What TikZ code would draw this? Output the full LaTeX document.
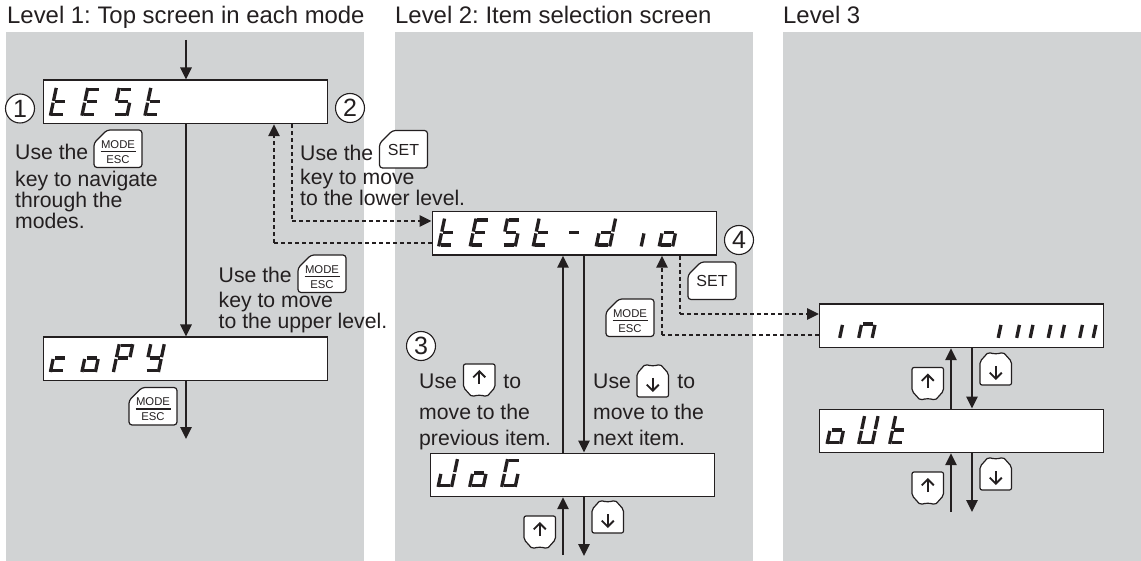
\documentclass[tikz,border=0pt]{standalone}
\usepackage{fontspec}
\setmainfont{Liberation Sans}
\usetikzlibrary{arrows.meta}
\definecolor{myInk}{RGB}{35,31,32}
\definecolor{myGray}{RGB}{209,211,212}
\frenchspacing

\tikzset{
	panel/.style={fill=myGray,draw=none},
	display/.style={draw=myInk,fill=white,line width=1.2pt,minimum width=284pt,minimum height=43.5pt,inner sep=0pt,anchor=north west,text opacity=0},
	txt/.style={font=\fontsize{21.2}{21}\selectfont,text=myInk,inner sep=0pt,anchor=base west,align=left},
	head/.style={font=\fontsize{23.9}{24}\selectfont,text=myInk,inner sep=0pt,anchor=base west},
	num/.style={circle,draw=myInk,line width=1.1pt,fill=white,minimum size=29pt,inner sep=0pt,font=\fontsize{25}{25}\selectfont,text=myInk},
	flow/.style={draw=myInk,line width=2.6pt,-{Triangle[length=12pt,width=11pt]}},
	dots/.style={draw=myInk,line width=2.8pt,dash pattern=on 4pt off 3pt,-{Triangle[length=12pt,width=11pt,sep=0pt]}},
	dotsplain/.style={draw=myInk,line width=2.8pt,dash pattern=on 4pt off 3pt},
	keyline/.style={draw=myInk,fill=white,line width=1.2pt,line join=round},
	keyarrow/.style={draw=myInk,line width=1.9pt,-{Straight Barb[length=6pt,width=12pt,line width=1.9pt]}},
	segline/.style={draw=myInk,line width=3.3pt,line cap=butt},
	% the seven segments, in the frame of one digit
	seg a/.style={insert path={(1.7,25)--(11.8,25)}},
	seg b/.style={insert path={(13.5,26.4)--(13.5,13.4)}},
	seg c/.style={insert path={(13.5,11.6)--(13.5,-1.4)}},
	seg d/.style={insert path={(1.7,0)--(11.8,0)}},
	seg e/.style={insert path={(0,-1.4)--(0,11.6)}},
	seg f/.style={insert path={(0,13.4)--(0,26.4)}},
	seg g/.style={insert path={(1.7,12.5)--(11.8,12.5)}},
	% keys
	modekey/.pic={
		\draw[keyline,rounded corners=3pt] (0,13) -- (13,0) -- (48,0) -- (48,37.5) -- (0,37.5) -- cycle;
		\node[font=\fontsize{11.3}{12}\selectfont,text=myInk,inner sep=0pt] (mode) at (24,14.5) {MODE};
		\node[font=\fontsize{11.3}{12}\selectfont,text=myInk,inner sep=0pt] (esc) at (24,29.5) {ESC};
		\draw[myInk,line width=1.1pt] (6.5,21.5) -- (41.5,21.5);
	},
	setkey/.pic={
		\draw[keyline,rounded corners=3pt] (0,13) -- (13,0) -- (48,0) -- (48,37.5) -- (0,37.5) -- cycle;
		\node[font=\fontsize{16}{16}\selectfont,text=myInk,inner sep=0pt] (set) at (24,19) {SET};
	},
	upkey/.pic={
		\draw[keyline,rounded corners=2pt] (0,0) -- (31.5,0) -- (31.5,23.5) -- (23,33) .. controls (19,31) and (12.5,31) .. (8.5,33) -- (0,23.5) -- cycle;
		\draw[keyarrow] (15.75,20) -- (15.75,6);
	},
	downkey/.pic={
		\draw[keyline,rounded corners=2pt] (8.5,0) .. controls (12.5,2) and (19,2) .. (23,0) -- (31.5,9.5) -- (31.5,33) -- (0,33) -- (0,9.5) -- cycle;
		\draw[keyarrow] (15.75,14) -- (15.75,28);
	},
}

% digit at bottom left corner (#1,#2), list of segments #3
\newcommand{\segdigit}[3]{%
	\begin{scope}[shift={(#1,#2)},y=1pt,xslant=.21]
		\edef\seglist{#3}
		\foreach \s in \seglist{
			\draw[segline,seg \s];
		}
	\end{scope}
}

\begin{document}
\begin{tikzpicture}[x=1pt,y=-1pt]
	\useasboundingbox (0,0) rectangle (1141,561);
	
	% gray panels
	\fill[panel] (6,32) rectangle (364,561);
	\fill[panel] (395,32) rectangle (753,561);
	\fill[panel] (783,32) rectangle (1141,561);
	
	% headings
	\node[head] (headA) at (7,24) {Level 1: Top screen in each mode};
	\node[head] (headB) at (395,24) {Level 2: Item selection screen};
	\node[head] (headC) at (783,24) {Level 3};
	
	% displays
	\node[display] (dTest) at (43,79.5) {tESt};
	\node[display] (dCopy) at (43,336.5) {coPY};
	\node[display] (dDio) at (431.5,211) {tESt-dio};
	\node[display] (dJog) at (430,452.5) {JoG};
	\node[display] (dIn) at (819,303.5) {in 111111};
	\node[display] (dOut) at (819,408.5) {oUt};
	
	% display digits
	\segdigit{50.7}{114.3}{d,e,f,g}
	\segdigit{82.2}{114.3}{a,d,e,f,g}
	\segdigit{113.7}{114.3}{a,c,d,f,g}
	\segdigit{145.2}{114.3}{d,e,f,g}
	
	\segdigit{50.7}{370.6}{d,e,g}
	\segdigit{82.2}{370.6}{c,d,e,g}
	\segdigit{113.7}{370.6}{a,b,e,f,g}
	\segdigit{145.2}{370.6}{b,c,d,f,g}
	
	\foreach \x/\segs in {0/{d,e,f,g},1/{a,d,e,f,g},2/{a,c,d,f,g},3/{d,e,f,g},4/{g},5/{b,c,d,e,g},6/{c},7/{c,d,e,g}}{
		\segdigit{439+31.5*\x}{245}{\segs}
	}
	
	\segdigit{438.4}{485.5}{b,c,d,e}
	\segdigit{470}{485.5}{c,d,e,g}
	\segdigit{502}{485.5}{a,c,d,e,f}
	
	\segdigit{826.5}{336.5}{c}
	\segdigit{859}{336.5}{c,e,g}
	\segdigit{985}{336.5}{c}
	\foreach \x in {1017,1048.5,1080}{
		\segdigit{\x}{336.5}{c,e}
	}
	
	\segdigit{827.4}{442.5}{c,d,e,g}
	\segdigit{859}{442.5}{b,c,d,e,f}
	\segdigit{890}{442.5}{d,e,f,g}
	
	% circled numbers
	\node[num] (numA) at (20,108.5) {1};
	\node[num] (numB) at (350,108) {2};
	\node[num] (numC) at (421,346) {3};
	\node[num] (numD) at (739,240) {4};
	
	% free ends
	\coordinate (inTop) at (186,40);
	\coordinate (outCopy) at (186,439);
	\coordinate (leftUp) at (274,243);
	\coordinate (leftDown) at (292,221);
	\coordinate (jogUp) at (563,555);
	\coordinate (jogDown) at (584,556);
	\coordinate (midDown) at (680,314);
	\coordinate (midUp) at (662,335);
	\coordinate (outUp) at (951,512);
	\coordinate (outDown) at (972,512);
	
	% level 1
	\draw[flow] (inTop) -- (inTop |- dTest.north);
	\draw[flow] (inTop |- dTest.south) -- (inTop |- dCopy.north);
	\draw[flow] (inTop |- dCopy.south) -- (outCopy);
	
	% between level 1 and level 2
	\draw[dotsplain] (leftDown |- dTest.south) -- (leftDown);
	\draw[dots] (leftDown) -- (leftDown -| dDio.west);
	\draw[dotsplain] (leftUp -| dDio.west) -- (leftUp);
	\draw[dots] (leftUp) -- (leftUp |- dTest.south);
	
	% level 2
	\draw[flow] (jogUp |- dJog.north) -- (jogUp |- dDio.south);
	\draw[flow] (jogDown |- dDio.south) -- (jogDown |- dJog.north);
	\draw[flow] (jogUp) -- (jogUp |- dJog.south);
	\draw[flow] (jogDown |- dJog.south) -- (jogDown);
	
	% between level 2 and level 3
	\draw[dotsplain] (midDown |- dDio.south) -- (midDown);
	\draw[dots] (midDown) -- (midDown -| dIn.west);
	\draw[dotsplain] (midUp -| dIn.west) -- (midUp);
	\draw[dots] (midUp) -- (midUp |- dDio.south);
	
	% level 3
	\draw[flow] (outUp |- dOut.north) -- (outUp |- dIn.south);
	\draw[flow] (outDown |- dIn.south) -- (outDown |- dOut.north);
	\draw[flow] (outUp) -- (outUp |- dOut.south);
	\draw[flow] (outDown |- dOut.south) -- (outDown);
	
	% keys
	\pic (keyA) at (94,130) {modekey};
	\pic (keyB) at (298,255) {modekey};
	\pic (keyC) at (129,387.5) {modekey};
	\pic (keyD) at (606,299) {modekey};
	\pic (keyE) at (379.5,130.5) {setkey};
	\pic (keyF) at (688,262) {setkey};
	
	\pic (keyG) at (463.5,364) {upkey};
	\pic (keyH) at (637,364) {downkey};
	\pic (keyI) at (524,516) {upkey};
	\pic (keyJ) at (592,500) {downkey};
	\pic (keyK) at (912,367.5) {upkey};
	\pic (keyL) at (980,352) {downkey};
	\pic (keyM) at (912,472) {upkey};
	\pic (keyN) at (980,457) {downkey};
	
	% notes
	\node[txt] (noteA) at (15,229) {Use the\\[6pt]key to navigate\\through the\\modes.};
	\node[txt] (noteB) at (300,206) {Use the\\[3pt]key to move\\to the lower level.};
	\node[txt] (noteC) at (218.5,329) {Use the\\[4pt]key to move\\to the upper level.};
	\node[txt] (noteD) at (419,445) {Use\hspace*{46.5pt}to\\[10pt]move to the\\[5pt]previous item.};
	\node[txt] (noteE) at (593,445) {Use\hspace*{46.5pt}to\\[10pt]move to the\\[5pt]next item.};
\end{tikzpicture}
\end{document}
